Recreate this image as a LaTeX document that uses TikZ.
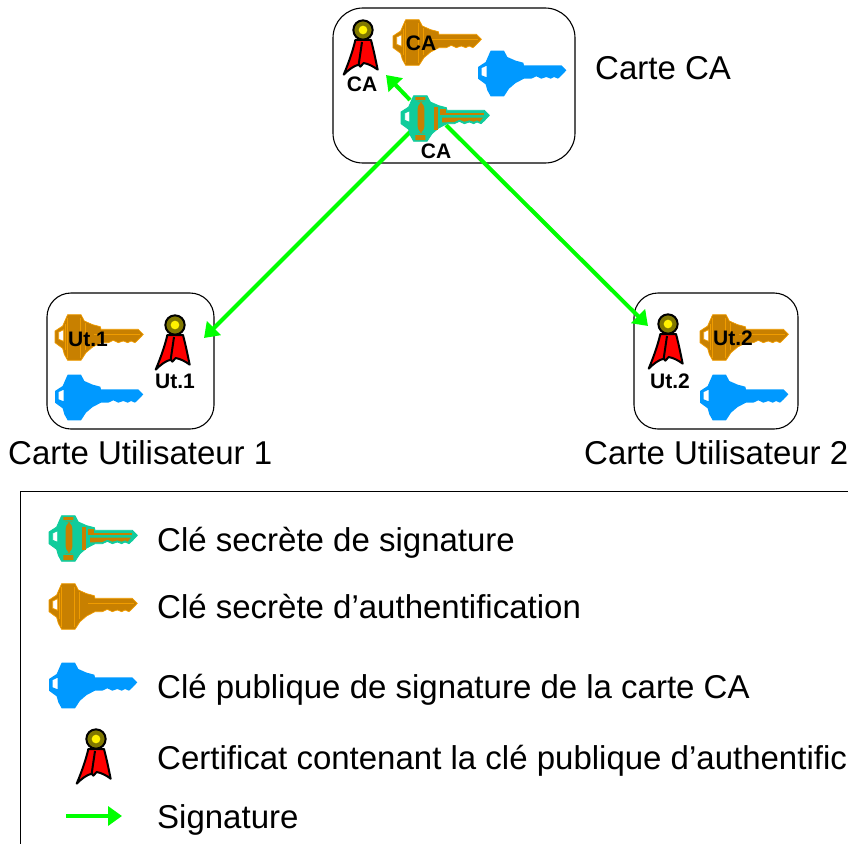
\documentclass[tikz,border=0pt]{standalone}
\usepackage{fontspec}
\setmainfont{Liberation Sans}
\usetikzlibrary{arrows.meta}
\definecolor{kor}{HTML}{C88000}
\definecolor{korl}{HTML}{F09C00}
\definecolor{kbl}{HTML}{0099FF}
\definecolor{ktl}{HTML}{10CC9C}
\definecolor{rib}{HTML}{FF0000}
\definecolor{med}{HTML}{807800}
\definecolor{grn}{HTML}{00FF00}
\newcommand{\keyout}{(0,-18) -- (23,-33) -- (33,-56) -- (38,-67) -- (78,-67) -- (88,-48) -- (113,-37) -- (136,-31) -- (138,-23) -- (250,-23) -- (265,-8) -- (250,8) -- (240,17) -- (228,12) -- (218,17) -- (205,12) -- (190,17) -- (175,10) -- (160,17) -- (138,17) -- (113,30) -- (93,47) -- (78,70) -- (38,70) -- (28,52) -- (23,34) -- (0,17) -- cycle}
\newcommand{\keyhole}{(11,-15) -- (26,-22) -- (26,13) -- (11,7) -- cycle}
\tikzset{
  x=1pt,y=-1pt,
  cardbox/.style={draw=black,line width=1.1pt,rounded corners=24pt},
  lab/.style={font=\fontsize{21}{23}\selectfont\bfseries,inner sep=0pt},
  txt/.style={font=\fontsize{33}{35}\selectfont,anchor=base west,inner sep=0pt},
  sigarrow/.style={draw=grn,line width=4pt,-{Triangle[length=14pt,width=19pt,fill=grn]}},
  keyblue/.pic={
    \begin{scope}[scale=1/3]
      \fill[kbl,even odd rule] \keyout \keyhole;
    \end{scope}},
  keyorange/.pic={
    \begin{scope}[scale=1/3]
      \filldraw[fill=kor,draw=korl,line width=.7pt,even odd rule] \keyout \keyhole;
      \draw[korl,line width=.5pt] (30,-40) -- (30,40) (37,-58) -- (37,62) (76,-58) -- (76,62) (92,-42) -- (92,38) (118,-8) -- (255,-8);
    \end{scope}},
  keyteal/.pic={
    \begin{scope}[scale=1/3]
      \filldraw[fill=ktl,draw=ktl,line width=.8pt,even odd rule] \keyout \keyhole;
      \fill[kor] (43,-63) rectangle (73,-54) (43,51) rectangle (73,66);
      \fill[kor,rounded corners=7pt] (50,-49) rectangle (70,46);
      \fill[kor] (98,-34) rectangle (110,36);
      \fill[kor] (116,-28) rectangle (136,-14);
      \fill[kor] (118,-14) rectangle (250,-8);
      \fill[kor] (123,-1) -- (246,-1) -- (236,11) -- (228,7) -- (218,11) -- (205,7) -- (190,11) -- (175,5) -- (160,12) -- (130,13) -- (123,13) -- cycle;
    \end{scope}},
  ribbon/.pic={
    \begin{scope}[scale=1/3]
      \filldraw[fill=rib,draw=black,line width=2pt,line join=round] (-23,30) .. controls (-32,70) and (-48,110) .. (-58,134) .. controls (-42,118) and (-28,108) .. (-13,104) -- (-8,110) -- (2,99) .. controls (18,102) and (32,110) .. (44,119) .. controls (38,90) and (32,60) .. (24,30) -- cycle;
      \draw[black,line width=2pt] (-3,36) -- (-13,104);
      \filldraw[fill=med,draw=black,line width=2pt] (0,0) circle (29);
      \fill[yellow] (0,0) circle (13);
    \end{scope}}
}
\begin{document}
\begin{tikzpicture}
\useasboundingbox (0,0) rectangle (848,843);
\clip (0,0) rectangle (848,843);
% cards
\draw[cardbox,rounded corners=30pt] (333,8) rectangle (575,163);
\draw[cardbox] (47,293) rectangle (214,429);
\draw[cardbox] (634,293) rectangle (798,429);
\draw[black,line width=.8pt] (20,491) rectangle (860,860);
% named ends
\coordinate (sigA) at (410,100);
\coordinate (sigB) at (415,127);
\coordinate (sigC) at (446,125);
\coordinate (certCA) at (386,75);
\coordinate (certU1) at (204,338);
\coordinate (certU2) at (648,326);
\coordinate (legA) at (66,816);
\coordinate (legB) at (122,816);
\draw[sigarrow] (sigA) -- (certCA);
\draw[sigarrow] (sigB) -- (certU1);
\draw[sigarrow] (sigC) -- (certU2);
\draw[sigarrow] (legA) -- (legB);
% keys
\pic at (393,42) {keyorange};
\pic at (478,73) {keyblue};
\pic at (401,118) {keyteal};
\pic at (55,337) {keyorange};
\pic at (55,397) {keyblue};
\pic at (700,337) {keyorange};
\pic at (700,397) {keyblue};
\pic at (49,538) {keyteal};
\pic at (49,606) {keyorange};
\pic at (49,685) {keyblue};
% certificates
\pic at (363,30) {ribbon};
\pic at (175,325) {ribbon};
\pic at (668,324) {ribbon};
\pic at (96,739) {ribbon};
% small labels
\node[lab] (lca1) at (362,84) {CA};
\node[lab] (lca2) at (421,43) {CA};
\node[lab] (lca3) at (436,151) {CA};
\node[lab] (lu1a) at (88,339) {Ut.1};
\node[lab] (lu1b) at (175,381) {Ut.1};
\node[lab] (lu2a) at (733,338) {Ut.2};
\node[lab] (lu2b) at (670,381) {Ut.2};
% captions
\node[txt] (ccard) at (595,79) {Carte CA};
\node[txt] (cu1) at (8,464) {Carte Utilisateur 1};
\node[txt] (cu2) at (584,464) {Carte Utilisateur 2};
\node[txt] (t1) at (157,551) {Clé secrète de signature};
\node[txt] (t2) at (157,618) {Clé secrète d’authentification};
\node[txt] (t3) at (157,698) {Clé publique de signature de la carte CA};
\node[txt] (t4) at (157,769) {Certificat contenant la clé publique d’authentific};
\node[txt] (t5) at (157,828) {Signature};
\end{tikzpicture}
\end{document}
